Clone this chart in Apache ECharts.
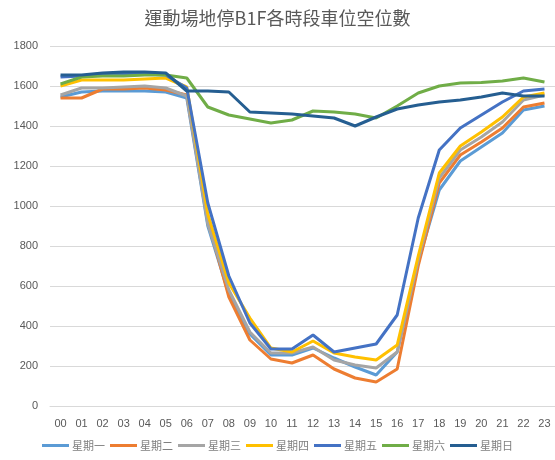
<!DOCTYPE html>
<html>
<head>
<meta charset="utf-8">
<script src="https://cdn.jsdelivr.net/npm/echarts@6/dist/echarts.min.js"></script>
<style>
html,body{margin:0;padding:0;background:#fff;}
#chart{width:555px;height:460px;}
</style>
</head>
<body>
<div id="chart"></div>
<script>
// Hours of the day
const hours = ['00','01','02','03','04','05','06','07','08','09','10','11','12','13','14','15','16','17','18','19','20','21','22','23'];

// Free parking spaces per hour, one array per weekday
const mon = [1545,1570,1575,1575,1575,1570,1540,900,560,360,255,255,290,240,195,155,270,720,1080,1225,1295,1365,1480,1500];
const tue = [1540,1540,1585,1585,1590,1580,1555,930,545,330,235,215,255,185,140,120,185,700,1115,1255,1320,1390,1495,1515];
const wed = [1555,1590,1590,1595,1600,1590,1550,910,580,370,265,265,295,230,205,190,270,730,1140,1280,1345,1420,1530,1555];
const thu = [1600,1630,1630,1630,1635,1640,1595,960,615,440,290,270,325,265,245,230,305,750,1165,1300,1370,1445,1545,1565];
const fri = [1645,1650,1655,1660,1660,1655,1590,1015,650,415,285,285,355,270,290,310,455,940,1280,1390,1455,1520,1575,1585];
const sat = [1610,1645,1650,1650,1655,1655,1640,1495,1455,1435,1415,1430,1475,1470,1460,1440,1500,1565,1600,1615,1617,1625,1640,1620];
const sun = [1655,1655,1665,1670,1670,1665,1575,1575,1570,1470,1465,1460,1450,1440,1400,1445,1485,1505,1520,1530,1545,1565,1550,1550];

const names = ['星期一','星期二','星期三','星期四','星期五','星期六','星期日'];
const values = [mon, tue, wed, thu, fri, sat, sun];
const colors = ['#5B9BD5','#ED7D31','#A5A5A5','#FFC000','#4472C4','#70AD47','#255E91'];

const chart = echarts.init(document.getElementById('chart'), null, {renderer:'canvas'});
chart.setOption({
  animation: false,
  color: colors,
  title: {
    text: '運動場地停B1F各時段車位空位數',
    left: 'center',
    top: 4,
    textStyle: {fontSize: 18, fontWeight: 'normal', color: '#595959', fontFamily: '"Noto Sans CJK TC", sans-serif'}
  },
  legend: {
    data: names,
    bottom: 4,
    left: 'center',
    itemWidth: 27,
    itemHeight: 3,
    itemGap: 5,
    icon: 'rect',
    textStyle: {fontSize: 11, color: '#7F7F7F', padding: [0,0,0,-2], fontFamily: '"Noto Sans CJK TC", sans-serif'}
  },
  grid: {left: 50, right: 0, top: 46, bottom: 54, containLabel: false},
  xAxis: {
    type: 'category',
    data: hours,
    boundaryGap: true,
    axisLine: {show: true, lineStyle: {color: '#D9D9D9'}},
    axisTick: {show: false},
    axisLabel: {fontSize: 11, color: '#595959', margin: 12, interval: 0}
  },
  yAxis: {
    type: 'value',
    min: 0,
    max: 1800,
    interval: 200,
    axisLine: {show: false},
    axisTick: {show: false},
    axisLabel: {fontSize: 11, color: '#595959', margin: 12, formatter: v => String(v)},
    splitLine: {lineStyle: {color: '#D9D9D9', width: 1}}
  },
  series: names.map((n, i) => ({
    name: n,
    type: 'line',
    data: values[i],
    symbol: 'none',
    smooth: false,
    lineStyle: {width: 3, color: colors[i]},
    itemStyle: {color: colors[i]}
  }))
});
</script>
</body>
</html>
